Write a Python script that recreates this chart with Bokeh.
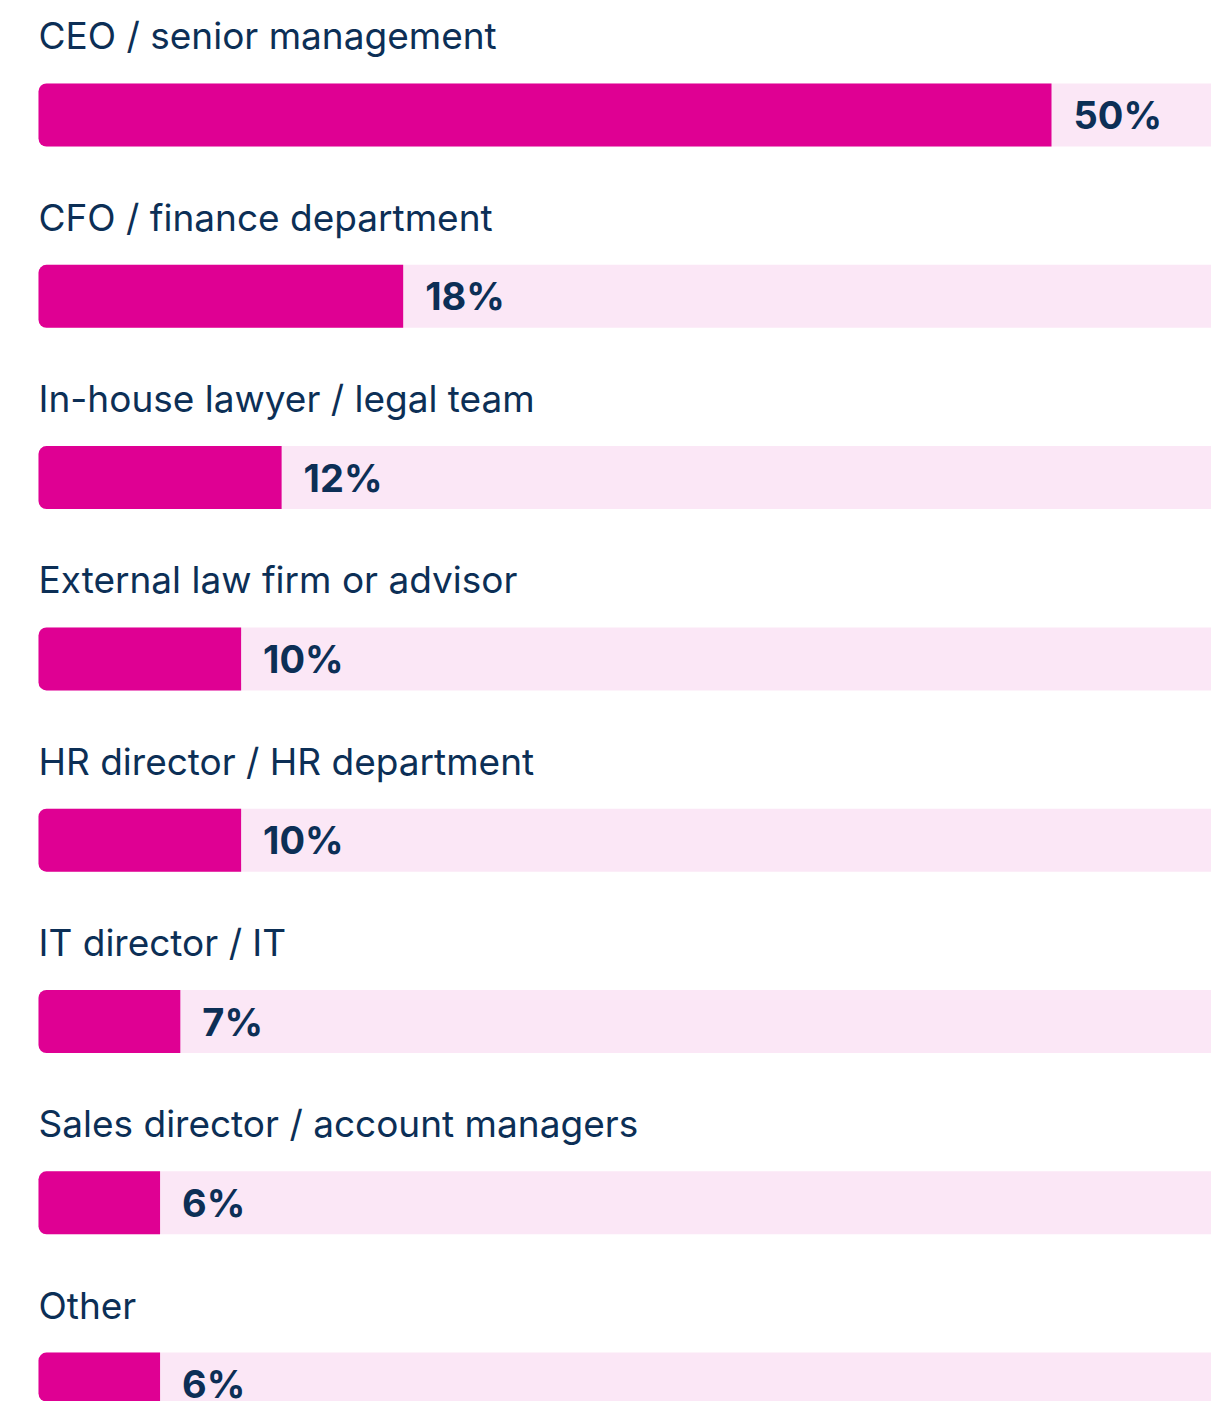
from bokeh.plotting import figure
from bokeh.models import Range1d, ColumnDataSource
from bokeh.core.properties import value
from bokeh.embed import file_html
from bokeh.resources import INLINE

categories = [
    "CEO / senior management",
    "CFO / finance department",
    "In-house lawyer / legal team",
    "External law firm or advisor",
    "HR director / HR department",
    "IT director / IT",
    "Sales director / account managers",
    "Other",
]
values = [50, 18, 12, 10, 10, 7, 6, 6]
value_labels = ["50%", "18%", "12%", "10%", "10%", "7%", "6%", "6%"]

NAVY = "#0c2f56"
PINK = "#df0093"
LIGHT = "#fbe7f6"

rows = list(range(len(categories)))
src = ColumnDataSource(dict(
    row=rows,
    label_y=[r - 0.436 for r in rows],
    cat=categories,
    val=values,
    full=[100] * len(values),
    zero=[0] * len(values),
    vlab=value_labels,
))

px_per = 20.26
row_px = 181.3
p = figure(width=1211, height=1401, output_backend="svg", toolbar_location=None,
           x_range=Range1d(-38 / px_per, (1211 - 38) / px_per),
           y_range=Range1d((1401 - 114.5) / row_px, -114.5 / row_px),
           min_border=0, outline_line_color=None)
p.axis.visible = False
p.grid.visible = False
p.background_fill_color = "white"
p.border_fill_color = "white"

bh = 63 / row_px
p.hbar(y="row", left="zero", right="full", height=bh, source=src,
       fill_color=LIGHT, line_color=None, border_radius=(8, 0, 0, 8))
p.hbar(y="row", left="zero", right="val", height=bh, source=src,
       fill_color=PINK, line_color=None, border_radius=(8, 0, 0, 8))

p.text(x="zero", y="label_y", text="cat", source=src,
       text_font=value("Inter"), text_font_size="37px", text_color=NAVY,
       text_baseline="middle", text_align="left")
p.text(x="val", y="row", text="vlab", source=src, x_offset=22,
       text_font=value("Inter"), text_font_size="38px", text_font_style="bold",
       text_color=NAVY, text_baseline="middle", text_align="left")

open("out.html", "w").write(file_html(p, INLINE))
